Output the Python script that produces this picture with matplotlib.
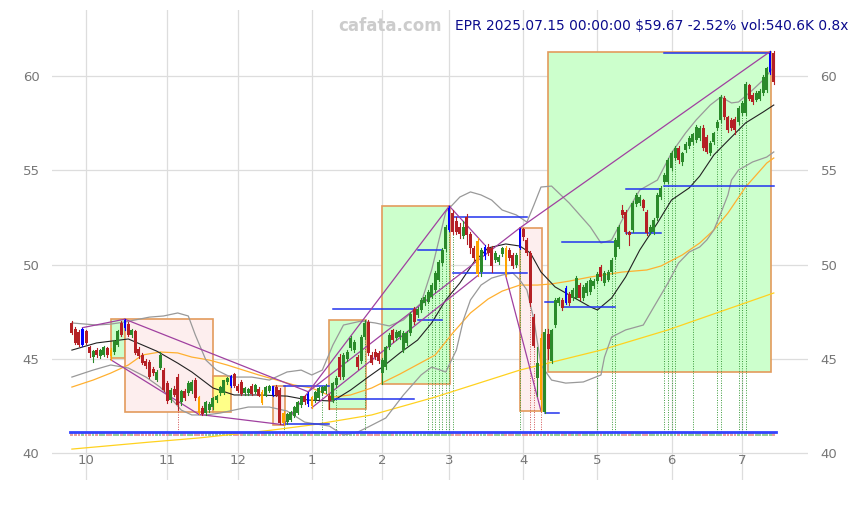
import matplotlib
matplotlib.use("Agg")
import matplotlib.pyplot as plt
from matplotlib.patches import Rectangle
import pandas as pd

# trading days shown (Sep 25 2024 .. Jul 15 2025)
holidays = ['2024-11-28', '2024-12-25', '2025-01-01', '2025-01-09', '2025-01-20',
            '2025-02-17', '2025-04-18', '2025-05-26', '2025-06-19', '2025-07-04']
dates = pd.bdate_range('2024-09-25', '2025-07-15', freq='C', holidays=holidays)

# daily candles
opens = [46.90, 46.60, 46.40, 45.75, 46.45, 45.60, 45.10, 45.45, 45.15, 45.20,
         45.55, 45.45, 45.35, 45.75, 46.90, 46.65, 46.85, 46.25, 46.45, 45.50,
         45.20, 44.90, 44.85, 44.45, 43.90, 44.50, 44.40, 43.70, 42.80, 43.40,
         44.05, 42.70, 43.30, 43.20, 43.30, 43.85, 42.95, 42.40, 42.10, 42.30,
         42.45, 42.80, 43.20, 43.20, 43.75, 43.55, 44.20, 43.55, 43.75, 43.20,
         43.20, 43.55, 43.25, 43.40, 43.25, 43.05, 43.30, 43.10, 43.50, 43.35,
         42.15, 41.65, 41.75, 41.95, 42.10, 42.55, 43.00, 42.60, 42.95, 42.80,
         42.90, 43.20, 43.30, 43.05, 42.80, 43.60, 45.10, 44.05, 45.00, 45.55,
         45.45, 45.10, 44.90, 46.15, 46.95, 45.20, 45.35, 45.30, 44.25, 44.55,
         45.60, 46.50, 46.10, 46.15, 45.45, 45.85, 46.35, 47.65, 47.30, 47.60,
         47.95, 48.00, 48.30, 48.65, 49.20, 50.10, 50.80, 51.85, 52.75, 52.30,
         52.00, 51.50, 52.50, 51.60, 50.85, 51.25, 49.60, 50.45, 50.95, 50.85,
         50.25, 50.15, 50.55, 50.90, 50.75, 50.50, 49.95, 50.90, 51.90, 51.30,
         50.60, 47.20, 44.00, 46.10, 42.20, 46.30, 44.90, 46.80, 47.95, 48.10,
         47.96, 48.45, 48.20, 48.25, 48.90, 48.20, 48.50, 48.55, 48.85, 49.10,
         49.87, 49.00, 49.20, 49.60, 50.40, 50.93, 52.90, 52.80, 51.70, 51.83,
         53.20, 53.25, 53.40, 52.80, 51.70, 51.70, 52.45, 53.60, 54.40, 54.40,
         55.10, 55.65, 56.20, 55.45, 56.05, 56.30, 56.50, 56.60, 56.70, 57.24,
         56.76, 55.90, 56.50, 57.24, 57.67, 58.83, 57.80, 57.67, 57.70, 57.56,
         58.04, 58.04, 59.50, 59.00, 58.73, 58.80, 59.10, 59.26, 60.20, 61.20]
highs = [47.00, 46.70, 46.50, 46.65, 46.55, 45.70, 45.45, 45.55, 45.50, 45.70,
         45.65, 45.55, 46.00, 46.50, 47.00, 47.10, 46.95, 46.60, 46.55, 45.60,
         45.30, 45.00, 44.95, 44.55, 44.40, 45.35, 44.50, 43.80, 43.45, 43.55,
         44.20, 43.35, 43.40, 43.80, 43.85, 44.00, 43.05, 42.50, 42.75, 42.70,
         42.95, 43.10, 43.55, 43.90, 44.05, 44.15, 44.25, 43.65, 43.85, 43.50,
         43.45, 43.65, 43.65, 43.50, 43.35, 43.55, 43.60, 43.58, 43.60, 43.45,
         42.25, 42.10, 42.25, 42.50, 42.75, 43.05, 43.10, 43.25, 43.05, 43.30,
         43.50, 43.55, 43.65, 43.15, 43.75, 44.10, 45.25, 45.30, 45.45, 46.20,
         46.00, 45.20, 46.25, 47.06, 47.05, 45.35, 45.50, 45.40, 45.05, 45.70,
         46.35, 46.60, 46.50, 46.55, 46.45, 46.45, 47.50, 47.75, 47.75, 48.20,
         48.40, 48.65, 49.00, 49.65, 50.25, 50.85, 52.10, 53.10, 52.90, 52.50,
         52.20, 52.30, 52.70, 51.70, 51.00, 51.40, 50.90, 51.05, 51.10, 51.00,
         50.70, 50.50, 50.95, 51.00, 50.85, 50.60, 50.60, 51.94, 51.95, 51.40,
         50.70, 47.40, 45.60, 46.30, 46.60, 46.60, 46.60, 48.20, 48.30, 48.20,
         48.85, 48.55, 48.75, 49.40, 49.00, 48.90, 49.10, 49.30, 49.25, 49.60,
         50.00, 49.65, 49.70, 50.35, 51.40, 52.10, 53.15, 52.90, 51.80, 53.35,
         53.80, 53.70, 53.50, 52.90, 52.10, 52.45, 53.80, 54.15, 54.85, 55.65,
         56.00, 56.30, 56.30, 55.95, 56.50, 56.80, 57.00, 57.40, 57.35, 57.40,
         56.85, 56.55, 57.05, 57.65, 59.00, 58.95, 57.90, 57.75, 57.80, 58.40,
         58.65, 59.70, 59.60, 59.10, 59.20, 59.30, 60.05, 60.50, 61.30, 61.30]
lows = [46.30, 45.80, 45.70, 45.70, 45.80, 45.10, 44.85, 45.10, 45.05, 45.15,
        45.10, 44.95, 45.25, 45.70, 46.20, 46.55, 46.20, 46.15, 45.25, 45.05,
        44.70, 44.50, 44.00, 44.15, 43.80, 44.45, 43.30, 42.65, 42.70, 43.00,
        42.28, 42.55, 42.80, 43.10, 43.20, 42.80, 42.05, 42.00, 42.00, 42.20,
        42.35, 42.70, 43.10, 43.15, 43.65, 43.50, 43.50, 43.25, 43.10, 43.10,
        43.10, 43.10, 43.20, 43.00, 42.60, 43.00, 43.25, 43.05, 43.05, 41.55,
        41.50, 41.55, 41.70, 41.90, 42.05, 42.45, 42.60, 42.50, 42.40, 42.70,
        42.85, 43.10, 43.20, 42.33, 42.70, 43.50, 43.95, 43.95, 44.90, 45.45,
        45.35, 44.45, 44.80, 46.05, 45.20, 44.70, 45.00, 44.80, 43.66, 44.45,
        45.50, 45.90, 46.00, 46.05, 45.35, 45.75, 46.25, 46.85, 47.20, 47.50,
        47.85, 47.95, 48.20, 48.55, 49.10, 50.00, 50.70, 51.80, 51.60, 51.60,
        51.40, 51.40, 51.10, 50.60, 50.20, 49.40, 49.40, 50.30, 50.50, 49.60,
        50.15, 50.05, 50.45, 49.40, 50.25, 49.80, 49.85, 50.80, 51.30, 50.50,
        47.80, 45.60, 43.00, 42.23, 42.10, 45.00, 44.80, 46.70, 47.85, 47.60,
        47.90, 47.85, 48.10, 48.15, 48.10, 48.10, 48.40, 48.45, 48.75, 49.00,
        49.20, 48.90, 49.10, 49.50, 50.30, 50.85, 52.50, 51.60, 51.03, 51.75,
        53.10, 53.15, 52.90, 51.55, 51.60, 51.60, 52.35, 53.50, 54.30, 54.30,
        55.00, 55.55, 55.40, 55.30, 55.95, 56.20, 56.40, 56.50, 56.60, 56.10,
        55.90, 55.80, 56.40, 57.15, 57.55, 57.70, 57.05, 57.15, 56.90, 57.45,
        57.95, 57.95, 58.70, 58.50, 58.65, 58.70, 59.00, 59.15, 60.10, 59.60]
closes = [46.35, 45.85, 45.75, 46.60, 45.85, 45.30, 45.40, 45.20, 45.45, 45.60,
          45.20, 45.15, 45.95, 46.45, 46.25, 47.05, 46.25, 46.50, 45.30, 45.15,
          44.75, 44.60, 44.05, 44.25, 44.30, 45.20, 43.35, 42.75, 43.35, 43.10,
          42.55, 43.30, 42.90, 43.70, 43.75, 42.90, 42.10, 42.05, 42.70, 42.60,
          42.90, 43.00, 43.50, 43.85, 44.00, 44.10, 43.55, 43.30, 43.15, 43.45,
          43.40, 43.15, 43.60, 43.05, 42.65, 43.50, 43.55, 43.55, 43.10, 41.60,
          41.60, 42.05, 42.20, 42.45, 42.70, 43.00, 42.70, 43.15, 42.50, 43.25,
          43.45, 43.50, 43.55, 42.75, 43.70, 44.00, 44.05, 45.20, 45.35, 46.10,
          45.90, 44.55, 46.15, 46.90, 45.30, 44.80, 45.10, 44.90, 44.95, 45.60,
          46.25, 46.00, 46.40, 46.45, 46.35, 46.35, 47.40, 46.95, 47.65, 48.10,
          48.30, 48.55, 48.90, 49.55, 50.15, 50.75, 52.00, 53.00, 51.75, 51.70,
          51.60, 52.00, 51.55, 50.90, 50.35, 49.50, 50.75, 50.95, 50.60, 49.90,
          50.60, 50.40, 50.85, 49.50, 50.35, 49.90, 50.50, 51.90, 51.45, 50.60,
          47.95, 45.70, 44.80, 42.80, 46.40, 45.50, 46.50, 48.10, 48.20, 47.70,
          48.75, 47.95, 48.65, 49.30, 48.20, 48.80, 49.00, 49.20, 49.15, 49.50,
          49.34, 49.55, 49.60, 50.24, 51.30, 52.00, 52.60, 51.70, 51.55, 53.26,
          53.70, 53.60, 53.00, 51.67, 52.00, 52.36, 53.70, 54.06, 54.75, 55.54,
          55.90, 56.20, 55.54, 55.90, 56.40, 56.70, 56.90, 57.30, 57.25, 56.18,
          55.97, 56.45, 56.97, 57.56, 58.90, 57.80, 57.14, 57.24, 57.15, 58.30,
          58.57, 59.60, 58.80, 58.60, 59.10, 59.20, 59.95, 60.40, 61.21, 59.67]

# pivot candles: highs drawn blue, lows drawn orange
pivot_high = [3, 15, 45, 57, 67, 107, 117, 127, 140, 198]
pivot_low = [11, 36, 54, 60, 68, 115, 123, 133]

# moving averages / bands read at sample bars
sma_idx = [0, 7, 16, 18, 24, 26, 30, 34, 40, 46, 53, 61, 67, 74, 79, 84, 88, 93, 98, 102,
           106, 110, 114, 118, 123, 127, 130, 133, 137, 142, 147, 149, 153, 157, 161, 166,
           170, 175, 178, 182, 187, 191, 196, 199]
sma_val = [45.46, 45.84, 46.05, 45.89, 45.41, 45.20, 44.77, 44.30, 43.45, 43.08, 43.08,
           43.02, 42.81, 42.76, 43.34, 44.03, 44.56, 45.31, 45.99, 46.90, 48.12, 49.02,
           50.13, 50.88, 51.09, 50.98, 50.61, 49.60, 48.81, 48.28, 47.75, 47.59, 48.22,
           49.34, 50.77, 52.20, 53.42, 54.06, 54.69, 55.81, 56.76, 57.51, 58.09, 58.46]
up_idx = [0, 7, 11, 15, 22, 26, 30, 33, 35, 38, 41, 45, 51, 56, 61, 65, 68, 71, 74, 77,
          82, 86, 90, 94, 99, 102, 106, 110, 113, 116, 119, 122, 126, 129, 131, 133, 136,
          141, 147, 150, 153, 156, 161, 166, 170, 174, 177, 181, 184, 187, 189, 193, 196, 199]
up_val = [46.90, 46.79, 46.84, 46.95, 47.21, 47.27, 47.43, 47.27, 46.26, 44.93, 44.40,
          44.03, 44.03, 43.87, 44.30, 44.40, 44.14, 44.40, 45.73, 46.79, 47.00, 46.90,
          46.74, 47.06, 47.96, 49.71, 52.79, 53.58, 53.85, 53.69, 53.42, 52.89, 52.63,
          52.25, 53.16, 54.11, 54.16, 53.26, 51.99, 51.14, 51.30, 52.36, 53.95, 54.48,
          55.92, 56.98, 57.67, 58.46, 58.89, 58.57, 58.62, 59.26, 59.79, 60.48]
lo_idx = [0, 6, 11, 16, 21, 25, 29, 31, 34, 38, 42, 50, 56, 61, 66, 73, 77, 81, 84, 89,
          94, 99, 102, 106, 109, 111, 113, 116, 119, 122, 125, 127, 129, 131, 133, 136,
          140, 145, 150, 151, 153, 157, 162, 165, 169, 172, 175, 178, 180, 182, 184, 186,
          187, 189, 193, 197, 199]
lo_val = [44.03, 44.40, 44.67, 44.51, 44.03, 43.50, 42.71, 42.28, 42.02, 42.02, 42.12,
          42.44, 42.44, 42.23, 41.64, 41.43, 40.95, 41.11, 41.38, 41.86, 43.08, 44.14,
          44.56, 44.30, 45.46, 47.06, 48.12, 48.91, 49.28, 49.44, 49.55, 49.18, 48.65,
          47.06, 44.67, 43.87, 43.71, 43.77, 44.14, 45.09, 46.15, 46.53, 46.79, 47.75,
          49.02, 50.08, 50.66, 50.93, 51.30, 51.83, 52.73, 53.69, 54.48, 55.01, 55.44,
          55.70, 55.97]
ma50_idx = [0, 6, 11, 16, 20, 25, 30, 34, 39, 44, 53, 63, 68, 74, 79, 85, 93, 103, 108,
            113, 118, 122, 127, 132, 136, 141, 147, 156, 163, 167, 173, 178, 182, 186, 191,
            197, 199]
ma50_val = [43.50, 43.87, 44.24, 44.67, 45.20, 45.36, 45.31, 45.09, 44.93, 44.67, 44.14,
            43.61, 43.45, 42.97, 43.08, 43.45, 44.19, 45.20, 46.37, 47.43, 48.17, 48.59,
            48.91, 48.91, 48.97, 49.12, 49.34, 49.60, 49.71, 49.92, 50.50, 51.14, 51.83,
            52.73, 54.11, 55.38, 55.65]
ma200_idx = [0, 22, 36, 56, 68, 85, 103, 127, 150, 169, 199]
ma200_val = [40.21, 40.58, 40.80, 41.20, 41.49, 42.02, 42.97, 44.40, 45.46, 46.53, 48.49]

# pattern boxes
box_start = [11, 15, 40, 57, 73, 88, 127, 135]
box_end = [15, 40, 45, 60.4, 83.4, 107.2, 133.3, 198.2]
box_low = [45.04, 42.17, 42.17, 41.49, 42.33, 43.66, 42.23, 44.31]
box_high = [47.10, 47.10, 44.08, 43.55, 47.06, 53.10, 51.94, 61.27]
box_kind = ['up', 'down', 'flat', 'down', 'up', 'up', 'down', 'up']

# support / resistance levels
lvl_val = [41.54, 43.55, 42.86, 47.64, 50.77, 47.05, 52.52, 49.55,
           48.00, 42.10, 47.75, 51.20, 54.00, 51.67, 54.16, 61.20]
lvl_from = [60, 60, 74, 74, 98, 98, 108, 108, 134, 134, 139, 139, 157, 157, 168, 168]
lvl_to = [73, 73, 97, 97, 105, 105, 129, 129, 138, 138, 154, 154, 167, 167, 199, 198]

# trend lines between pivots
trend_a = [3, 15, 11, 36, 60, 67, 107, 123, 127, 68]
trend_b = [15, 67, 36, 60, 107, 127, 117, 133, 198, 115]

# signal days
sig_green = [60, 71, 75, 83, 101, 102, 103, 104, 105, 106, 107, 108, 127, 149, 153,
             154, 168, 169, 170, 171, 176, 183, 184, 189, 190, 191]
sig_red = [30, 130, 131, 133]

n = len(closes)
idx = list(range(n))

fig = plt.figure(figsize=(8.58, 5.05), dpi=100)
ax = fig.add_axes([52 / 858, 25 / 505, 756 / 858, 470 / 505])

for s in ax.spines.values():
    s.set_visible(False)
ax.grid(color='#dddddd', lw=0.9, zorder=0)
ax.set_axisbelow(True)

# boxes
fills = {'up': '#ccffcc', 'down': '#fdeeee', 'flat': '#ffff88'}
for x0, x1, lo, hi, k in zip(box_start, box_end, box_low, box_high, box_kind):
    ax.add_patch(Rectangle((x0, lo), x1 - x0, hi - lo, facecolor=fills[k],
                           edgecolor='#e39b5c', lw=1.2, zorder=1))

# signal lines
for i in sig_green:
    ax.plot([i, i], [41.1, lows[i]], color='#3a9a3a', lw=0.7, ls=(0, (1, 1.5)), zorder=2)
for i in sig_red:
    ax.plot([i, i], [41.1, lows[i]], color='#d05050', lw=0.7, ls=(0, (1, 1.5)), zorder=2)

# indicator lines
ax.plot(ma200_idx, ma200_val, color='#ffd21f', lw=0.9, zorder=3)
ax.plot(ma50_idx, ma50_val, color='#ffb030', lw=0.9, zorder=3)
ax.plot(up_idx, up_val, color='#999999', lw=0.9, zorder=3)
ax.plot(lo_idx, lo_val, color='#999999', lw=0.9, zorder=3)
ax.plot(sma_idx, sma_val, color='#222222', lw=0.8, zorder=3)

# volume strip
for i in idx:
    c = '#e6a0a0' if closes[i] < opens[i] else '#99cc99'
    ax.bar(i, 0.17, bottom=40.93, width=0.8, color=c, lw=0, zorder=2)
ax.plot([-0.5, n - 0.5], [41.14, 41.14], color='#3344ff', lw=2.0, zorder=3)

# level lines
for v, a, b in zip(lvl_val, lvl_from, lvl_to):
    ax.plot([a, b], [v, v], color='#2233ee', lw=1.1, zorder=4)

# trend lines
def pivot_price(i):
    return highs[i] if i in pivot_high else lows[i]

for a, b in zip(trend_a, trend_b):
    ax.plot([a, b], [pivot_price(a), pivot_price(b)], color='#a040a0', lw=0.9, zorder=4)

# candles
for i in idx:
    o, h, l, c = opens[i], highs[i], lows[i], closes[i]
    w = 0.85
    if i in pivot_high:
        col, w = '#0000ff', 0.6
    elif i in pivot_low:
        col, w = '#ffa500', 0.6
    elif c >= o:
        col = '#2a8a2a'
    else:
        col = '#b52025'
    ax.plot([i, i], [l, h], color=col, lw=0.8, zorder=5)
    ax.bar(i, max(abs(c - o), 0.04), bottom=min(o, c), width=w, color=col, lw=0, zorder=5)

# axes
month_pos = [i for i in range(1, n) if dates[i].month != dates[i - 1].month]
ax.set_xticks(month_pos)
ax.set_xticklabels([str(dates[i].month) for i in month_pos])
ax.set_yticks([40, 45, 50, 55, 60])
ax.set_xlim(-5.64, 208.7)
ax.set_ylim(38.57, 63.5)
ax.tick_params(axis='x', length=0, pad=-19, labelsize=9.5, labelcolor='#777777')
ax.tick_params(axis='y', length=0, pad=9, labelsize=9.5, labelcolor='#777777',
               labelright=True)

fig.text(338 / 858, 1 - 26 / 505, 'cafata.com', fontsize=12, fontweight='bold',
         color='#cccccc', va='center', ha='left')
fig.text(455 / 858, 1 - 26 / 505, r'EPR 2025.07.15 00:00:00 \$59.67 -2.52% vol:540.6K 0.8x',
         fontsize=9.9, color='#0a0a8c', va='center', ha='left')

fig.savefig('out.png', dpi=100)
